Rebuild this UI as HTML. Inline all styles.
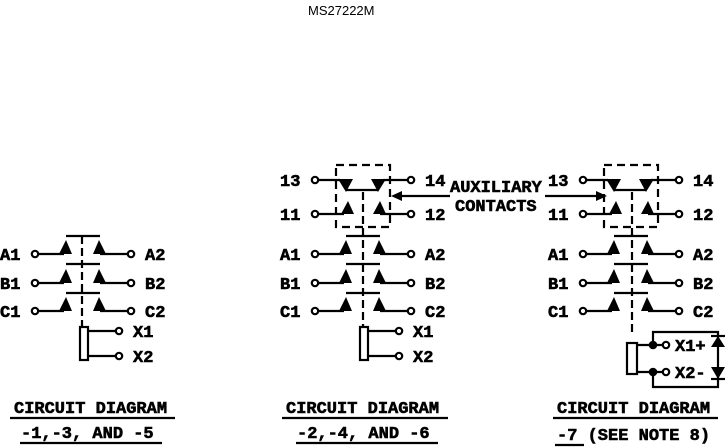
<!DOCTYPE html>
<html><head><meta charset="utf-8"><style>
html,body{margin:0;padding:0;background:#fff;width:728px;height:448px;overflow:hidden}
svg{display:block}
text{font-family:"Liberation Mono",monospace;font-weight:bold;font-size:17px;fill:#000;stroke:#000;stroke-width:0.6}
</style></head><body>
<svg width="728" height="448" viewBox="0 0 728 448" xmlns="http://www.w3.org/2000/svg">
<defs>
<g id="rows" stroke="#000" fill="none" stroke-width="2.2">
  <circle cx="35" cy="254" r="3.2" fill="#fff"/><line x1="38" y1="254" x2="64" y2="254"/>
  <polygon points="59,254 72,254 66,240" fill="#000" stroke="none"/>
  <polygon points="93,254 106,254 99,240" fill="#000" stroke="none"/>
  <line x1="100" y1="254" x2="128" y2="254"/><circle cx="131" cy="254" r="3.2" fill="#fff"/>
  <circle cx="35" cy="283" r="3.2" fill="#fff"/><line x1="38" y1="283" x2="64" y2="283"/>
  <polygon points="59,283 72,283 66,269" fill="#000" stroke="none"/>
  <polygon points="93,283 106,283 99,269" fill="#000" stroke="none"/>
  <line x1="100" y1="283" x2="128" y2="283"/><circle cx="131" cy="283" r="3.2" fill="#fff"/>
  <circle cx="35" cy="311" r="3.2" fill="#fff"/><line x1="38" y1="311" x2="64" y2="311"/>
  <polygon points="59,311 72,311 66,297" fill="#000" stroke="none"/>
  <polygon points="93,311 106,311 99,297" fill="#000" stroke="none"/>
  <line x1="100" y1="311" x2="128" y2="311"/><circle cx="131" cy="311" r="3.2" fill="#fff"/>
  <line x1="66" y1="264" x2="100" y2="264"/>
  <line x1="66" y1="293" x2="100" y2="293"/>
</g>
<g id="lbl">
  <text x="0" y="260">A1</text><text x="145" y="260">A2</text>
  <text x="0" y="289">B1</text><text x="145" y="289">B2</text>
  <text x="0" y="317">C1</text><text x="145" y="317">C2</text>
</g>
<g id="coil" stroke="#000" fill="none" stroke-width="2.2">
  <rect x="80" y="327" width="8" height="33" fill="#fff"/>
  <line x1="88" y1="331" x2="116" y2="331"/><circle cx="119" cy="331" r="3.2" fill="#fff"/>
  <line x1="88" y1="356" x2="116" y2="356"/><circle cx="119" cy="356" r="3.2" fill="#fff"/>
</g>
<g id="aux" stroke="#000" fill="none" stroke-width="2.2">
  <circle cx="35" cy="180" r="3.2" fill="#fff"/><line x1="38" y1="180" x2="60" y2="180"/>
  <polygon points="58,179 73,179 66,192" fill="#000" stroke="none"/>
  <polygon points="91,179 106,179 98,192" fill="#000" stroke="none"/>
  <line x1="66" y1="190" x2="98" y2="190"/>
  <line x1="103" y1="180" x2="128" y2="180"/><circle cx="131" cy="180" r="3.2" fill="#fff"/>
  <circle cx="35" cy="214" r="3.2" fill="#fff"/><line x1="38" y1="214" x2="64" y2="214"/>
  <polygon points="61,214 74,214 68,201" fill="#000" stroke="none"/>
  <polygon points="93,214 106,214 100,201" fill="#000" stroke="none"/>
  <line x1="100" y1="214" x2="128" y2="214"/><circle cx="131" cy="214" r="3.2" fill="#fff"/>
  <rect x="56" y="165" width="54" height="62" stroke-dasharray="8,5"/>
  <line x1="66" y1="236" x2="100" y2="236"/>
</g>
<g id="auxl">
  <text x="0" y="186">13</text><text x="145" y="186">14</text>
  <text x="0" y="220">11</text><text x="145" y="220">12</text>
</g>
</defs>

<text x="308" y="15" style="font-family:'Liberation Sans',sans-serif;font-weight:normal;font-size:13px;stroke:none">MS27222M</text>

<g>
  <use href="#rows"/><use href="#lbl"/><use href="#coil"/>
  <line x1="66" y1="236" x2="100" y2="236" stroke="#000" stroke-width="2.2"/>
  <line x1="82" y1="236" x2="82" y2="327" stroke="#000" stroke-width="2.2" stroke-dasharray="8,4"/>
  <text x="133" y="337">X1</text><text x="133" y="362">X2</text>
  <text x="14" y="413">CIRCUIT DIAGRAM</text>
  <line x1="10" y1="418" x2="175" y2="418" stroke="#000" stroke-width="2.2"/>
  <text x="21" y="438">-1,-3, AND -5</text>
  <line x1="20" y1="443" x2="162" y2="443" stroke="#000" stroke-width="2.2"/>
</g>

<g transform="translate(280,0)">
  <use href="#rows"/><use href="#lbl"/><use href="#coil"/><use href="#aux"/><use href="#auxl"/>
  <line x1="83" y1="192" x2="83" y2="327" stroke="#000" stroke-width="2.2" stroke-dasharray="8,4"/>
  <text x="133" y="337">X1</text><text x="133" y="362">X2</text>
  <text x="6" y="413">CIRCUIT DIAGRAM</text>
  <line x1="2" y1="418" x2="168" y2="418" stroke="#000" stroke-width="2.2"/>
  <text x="17" y="438">-2,-4, AND -6</text>
  <line x1="16" y1="443" x2="158" y2="443" stroke="#000" stroke-width="2.2"/>
</g>
<text x="450" y="192">AUXILIARY</text>
<text x="455" y="211">CONTACTS</text>
<line x1="450" y1="196" x2="398" y2="196" stroke="#000" stroke-width="2.2"/>
<polygon points="391,196 402,191 402,201" fill="#000"/>

<g transform="translate(548,0)">
  <use href="#rows"/><use href="#lbl"/><use href="#aux"/><use href="#auxl"/>
  <line x1="84" y1="192" x2="84" y2="332" stroke="#000" stroke-width="2.2" stroke-dasharray="8,4"/>
</g>
<line x1="545" y1="196" x2="600" y2="196" stroke="#000" stroke-width="2.2"/>
<polygon points="607,196 596,191 596,201" fill="#000"/>
<g stroke="#000" stroke-width="2.2" fill="none">
  <rect x="627" y="343" width="10" height="31" fill="#fff"/>
  <line x1="637" y1="345" x2="663" y2="345"/><circle cx="653" cy="345" r="3.2" fill="#000"/><circle cx="666" cy="345" r="3.2" fill="#fff"/>
  <line x1="637" y1="372" x2="663" y2="372"/><circle cx="653" cy="372" r="3.2" fill="#000"/><circle cx="666" cy="372" r="3.2" fill="#fff"/>
  <polyline points="653,345 653,332 718,332 718,387 653,387 653,372"/>
</g>
<polygon points="711,347 725,347 718,336" fill="#000"/>
<line x1="711" y1="336" x2="725" y2="336" stroke="#000" stroke-width="2.2"/>
<polygon points="711,367 725,367 718,379" fill="#000"/>
<line x1="711" y1="379" x2="725" y2="379" stroke="#000" stroke-width="2.2"/>
<text x="675" y="351">X1+</text><text x="675" y="378">X2-</text>
<text x="557" y="413">CIRCUIT DIAGRAM</text>
<line x1="553" y1="418" x2="718" y2="418" stroke="#000" stroke-width="2.2"/>
<text x="557" y="440">-7 (SEE NOTE 8)</text>
<line x1="555" y1="445" x2="584" y2="445" stroke="#000" stroke-width="2.2"/>
</svg>
</body></html>
